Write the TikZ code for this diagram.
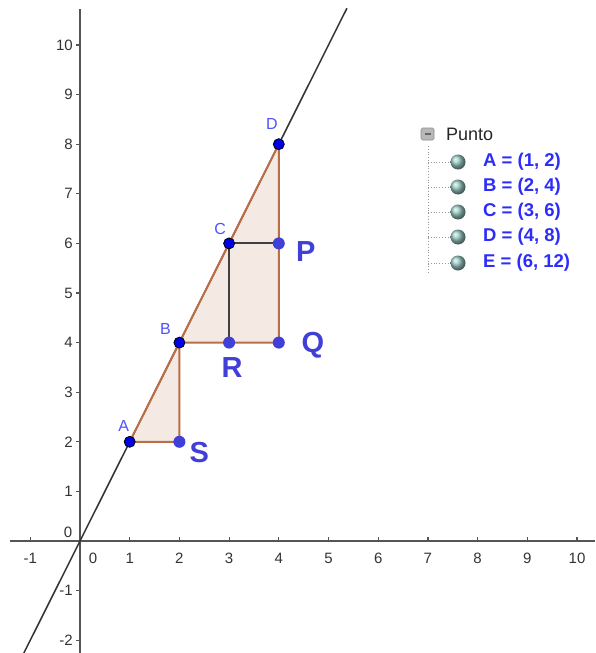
\documentclass[tikz,border=0pt]{standalone}
\usepackage{fontspec}
\setmainfont{Liberation Sans}
\definecolor{fillc}{RGB}{245,233,227}
\definecolor{edgec}{RGB}{185,110,70}
\definecolor{ptblue}{RGB}{64,64,216}
\definecolor{ptdark}{RGB}{0,0,230}
\definecolor{lablue}{RGB}{80,80,255}
\definecolor{legblue}{RGB}{45,45,250}
\definecolor{axc}{RGB}{85,85,85}
\definecolor{ballc}{RGB}{150,200,195}
\begin{document}
\begin{tikzpicture}[x=1pt,y=-1pt,
  axis/.style={draw=axc, line width=2pt},
  tick/.style={draw=axc, line width=1.2pt},
  axlab/.style={font=\fontsize{15}{15}\selectfont, text=black!80, inner sep=0pt},
  lineq/.style={draw=black!80, line width=1.5pt},
  edge/.style={draw=edgec, line width=2pt, line join=round},
  seg/.style={draw=black!75, line width=2pt},
  ptdk/.style={circle, fill=ptdark, draw=black, line width=0.8pt, minimum size=11pt, inner sep=0pt},
  ptlt/.style={circle, fill=ptblue, draw=none, minimum size=12pt, inner sep=0pt},
  smlab/.style={font=\fontsize{16}{16}\selectfont, text=lablue, inner sep=0pt},
  biglab/.style={font=\fontsize{29}{29}\selectfont\bfseries, text=ptblue, inner sep=0pt},
  legtxt/.style={font=\fontsize{18.5}{18.5}\selectfont\bfseries, text=legblue, anchor=west, inner sep=0pt},
  tree/.style={draw=black!40, line width=0.8pt, dotted}
]
\useasboundingbox (0,0) rectangle (595,653);
\fill[white] (0,0) rectangle (595,653);

\begin{scope}[shift={(80pt,-541pt)}, x={(49.7pt,0pt)}, y={(0pt,49.6pt)}]
  \coordinate (A) at (1,2);
  \coordinate (B) at (2,4);
  \coordinate (C) at (3,6);
  \coordinate (D) at (4,8);
  \coordinate (S) at (2,2);
  \coordinate (R) at (3,4);
  \coordinate (P) at (4,6);
  \coordinate (Q) at (4,4);
  \coordinate (xl) at (-1.41,0);
  \coordinate (xr) at (10.36,0);
  \coordinate (yb) at (0,-2.26);
  \coordinate (yt) at (0,10.73);
  \coordinate (l1) at (-1.13,-2.26);
  \coordinate (l2) at (5.37,10.74);

  % fills
  \fill[fillc] (A) -- (B) -- (S) -- cycle;
  \fill[fillc] (B) -- (D) -- (Q) -- cycle;

  % axes
  \draw[axis] (xl) -- (xr);
  \draw[axis] (yb) -- (yt);
  \foreach \i in {-1,1,2,...,10} {
    \draw[tick] (\i,0) -- ++(0pt,4pt);
    \node[axlab] at (\i,0) [yshift=-17pt] {\i};
  }
  \foreach \j in {-2,-1,1,2,...,10} {
    \draw[tick] (0,\j) -- ++(-4pt,0pt);
    \node[axlab, anchor=east] at (0,\j) [xshift=-7pt] {\j};
  }
  \node[axlab] at (0,0) [xshift=-12pt, yshift=9pt] {0};
  \node[axlab] at (0,0) [xshift=13pt, yshift=-17pt] {0};

  % line y = 2x
  \draw[lineq] (l1) -- (l2);

  % polygon edges
  \draw[edge] (A) -- (B) -- (S) -- cycle;
  \draw[edge] (B) -- (D) -- (Q) -- cycle;
  \draw[seg] (C) -- (P);
  \draw[seg] (C) -- (R);

  % points
  \node[ptlt] (nS) at (S) {};
  \node[ptlt] (nR) at (R) {};
  \node[ptlt] (nP) at (P) {};
  \node[ptlt] (nQ) at (Q) {};
  \node[ptdk] (nA) at (A) {};
  \node[ptdk] (nB) at (B) {};
  \node[ptdk] (nC) at (C) {};
  \node[ptdk] (nD) at (D) {};

  % labels
  \node[smlab] (lA) at (A) [xshift=-6pt, yshift=16pt] {A};
  \node[smlab] (lB) at (B) [xshift=-14pt, yshift=14pt] {B};
  \node[smlab] (lC) at (C) [xshift=-9pt, yshift=14pt] {C};
  \node[smlab] (lD) at (D) [xshift=-7pt, yshift=20pt] {D};
  \node[biglab] (lS) at (S) [xshift=20pt, yshift=-11pt] {S};
  \node[biglab] (lR) at (R) [xshift=3pt, yshift=-25pt] {R};
  \node[biglab] (lP) at (P) [xshift=27pt, yshift=-8pt] {P};
  \node[biglab] (lQ) at (Q) [xshift=34pt, yshift=-3pt] {Q};
\end{scope}

% legend
\draw[fill=black!28, draw=black!45, rounded corners=1.5pt, line width=0.6pt] (421,128) rectangle (434,140);
\draw[black!60, line width=1.4pt] (424.5,134) -- (430.5,134);
\node[font=\fontsize{18}{18}\selectfont, text=black!85, anchor=west, inner sep=0pt] (punto) at (446,134) {Punto};
\coordinate (tv1) at (428,146);
\coordinate (tv2) at (428,274);
\draw[tree] (tv1) -- (tv2);
\foreach \yy/\txt/\nm in {162/{A = (1, 2)}/a, 187/{B = (2, 4)}/b, 212/{C = (3, 6)}/c, 237/{D = (4, 8)}/d, 263/{E = (6, 12)}/e} {
  \coordinate (h\nm) at (428,\yy);
  \draw[tree] (h\nm) -- ++(22,0);
  \shade[ball color=ballc] (458,\yy) circle (7.5);
  \node[legtxt] (t\nm) at (483,\yy) {\txt};
}
\end{tikzpicture}
\end{document}
